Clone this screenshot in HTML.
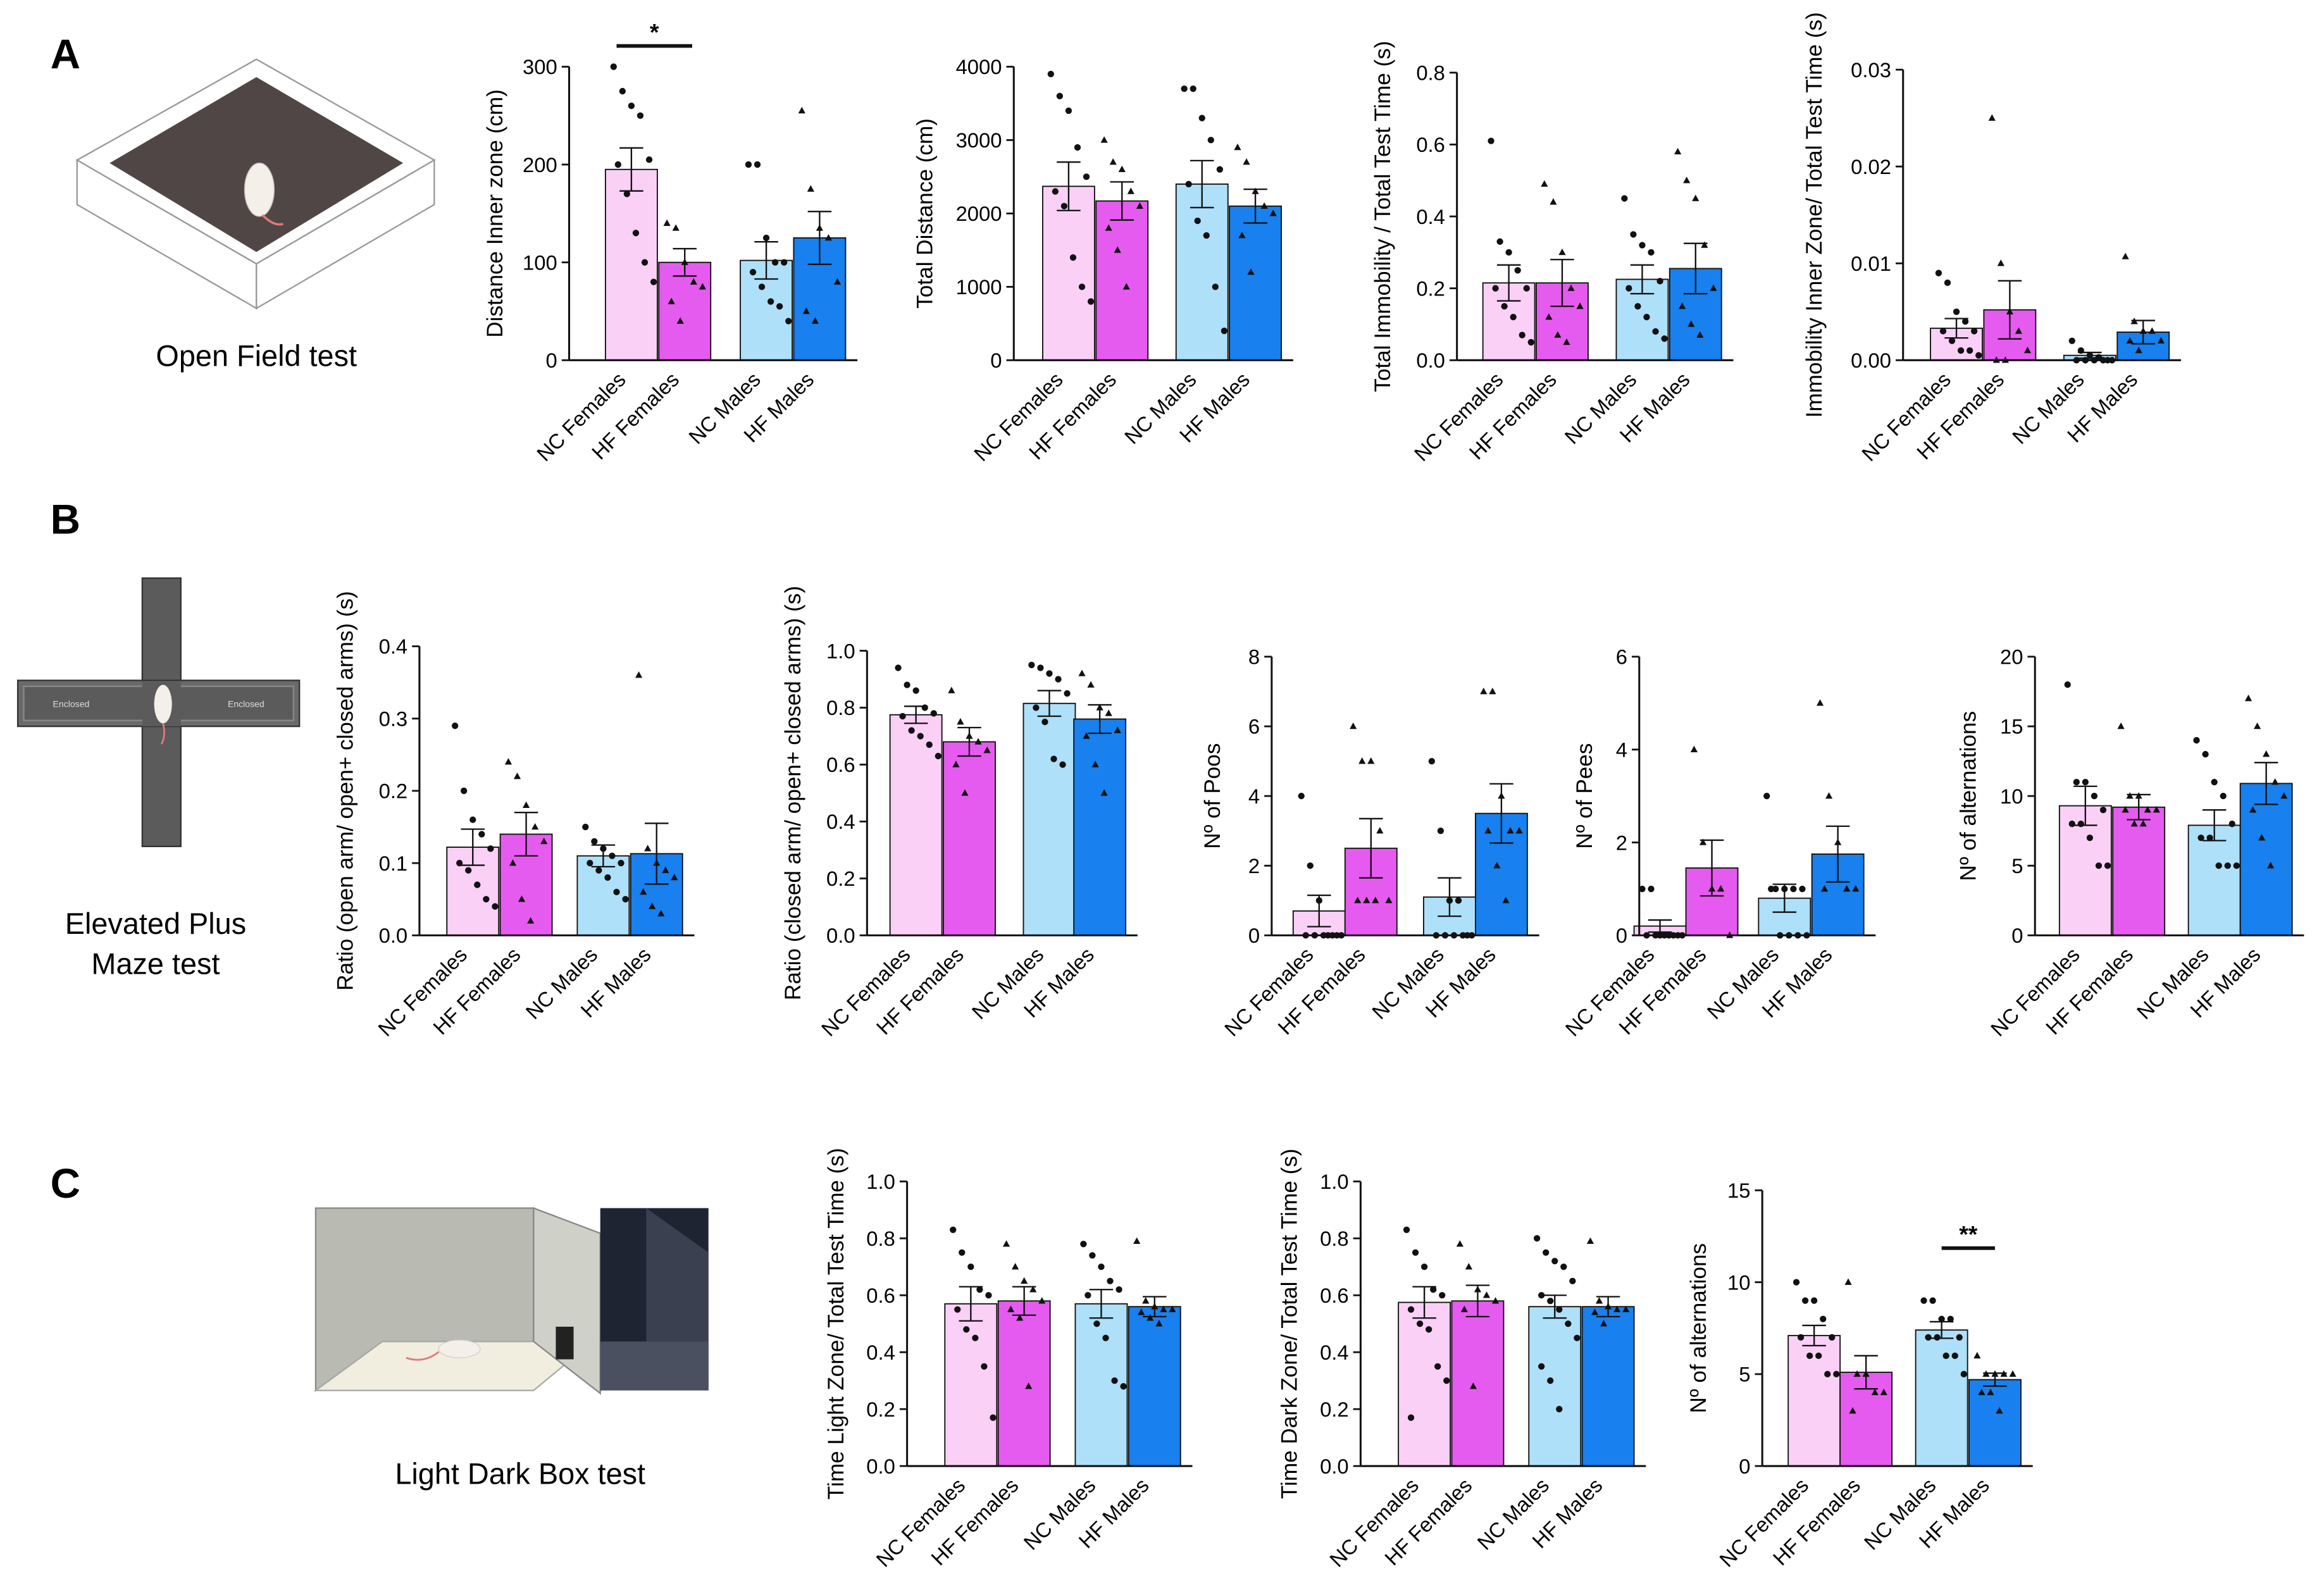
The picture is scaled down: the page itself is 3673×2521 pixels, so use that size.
<!DOCTYPE html>
<html><head><meta charset="utf-8"><style>
html,body{margin:0;padding:0;background:#fff}
svg{display:block}
text{font-family:"Liberation Sans",sans-serif}
</style></head><body>
<svg id="fig" xmlns="http://www.w3.org/2000/svg" width="3673" height="2521" viewBox="0 0 1568 1076" preserveAspectRatio="none">
<g font-weight="bold" font-size="28">
<text x="34" y="46">A</text><text x="34" y="360">B</text><text x="34" y="808">C</text>
</g>
<g>
<polygon points="52,108 173,40 293,108 173,178" fill="#fff" stroke="#999" stroke-width="1"/>
<polygon points="52,108 173,178 173,208 52,138" fill="#fff" stroke="#999"/>
<polygon points="173,178 293,108 293,138 173,208" fill="#fff" stroke="#999"/>
<polygon points="74,110 173,52 272,110 173,170" fill="#514646"/>
<ellipse cx="175" cy="128" rx="10" ry="18" fill="#f4efe9" stroke="#bbb" stroke-width="0.6"/>
<path d="M177,145 q8,8 14,6" stroke="#e07a7a" fill="none" stroke-width="1.5"/>
<text x="173" y="247" font-size="20" text-anchor="middle">Open Field test</text>
</g>
<g>
<rect x="96" y="390" width="26" height="181" fill="#5b5b5b" stroke="#333"/>
<rect x="12" y="459" width="190" height="31" fill="#6a6a6a" stroke="#333"/>
<rect x="16" y="463" width="182" height="23" fill="#5b5b5b" stroke="#888"/>
<rect x="96" y="460" width="26" height="30" fill="#5b5b5b"/>
<text x="48" y="477" font-size="6" fill="#ddd" text-anchor="middle">Enclosed</text>
<text x="166" y="477" font-size="6" fill="#ddd" text-anchor="middle">Enclosed</text>
<ellipse cx="110" cy="475" rx="6" ry="13" fill="#f4efe9"/>
<path d="M110,488 q2,8 -1,14" stroke="#e07a7a" fill="none" stroke-width="1.2"/>
<text x="105" y="630" font-size="20" text-anchor="middle">Elevated Plus</text>
<text x="105" y="657" font-size="20" text-anchor="middle">Maze test</text>
</g>
<g>
<polygon points="213,815 360,815 360,905 258,905 213,938" fill="#b9bbb2" stroke="#888"/>
<polygon points="258,905 400,905 360,938 213,938" fill="#f1eee0" stroke="#aaa"/>
<polygon points="360,815 405,832 405,940 360,905" fill="#cfd0c8" stroke="#888"/>
<polygon points="405,815 478,815 478,938 405,938" fill="#1f2433"/>
<polygon points="436,815 478,845 478,938 436,905" fill="#3a4050"/>
<polygon points="405,905 478,905 478,938 405,938" fill="#4a5060"/>
<rect x="375" y="895" width="12" height="22" fill="#222"/>
<ellipse cx="310" cy="910" rx="14" ry="6" fill="#f4efe9" stroke="#ccc" stroke-width="0.5"/>
<path d="M296,912 q-10,8 -22,4" stroke="#e07a7a" fill="none" stroke-width="1.2"/>
<text x="351" y="1001" font-size="20" text-anchor="middle">Light Dark Box test</text>
</g>
<g id="charts"></g>
</svg>
<script>
const categories = ["NC Females","HF Females","NC Males","HF Males"];
const colors = ["#fbd0f7","#e65bef","#aee0fa","#1880ef"];

const valuesA1 = [195,100,102,125]; const errA1 = [22,14,19,27];
const ptsA1 = [[300,275,260,250,205,200,170,130,100,80],[140,135,100,80,75,60,40],[200,200,125,100,100,90,75,60,55,40],[255,175,135,125,80,50,40]];
const valuesA2 = [2370,2170,2400,2100]; const errA2 = [330,260,320,230];
const ptsA2 = [[3900,3600,3400,2900,2500,2300,2100,1400,1000,800],[3000,2700,2600,2300,2100,1800,1500,1000],[3700,3700,3300,3000,2600,2400,1900,1700,1000,400],[2900,2700,2300,2100,2000,1700,1200]];
const valuesA3 = [0.215,0.215,0.225,0.255]; const errA3 = [0.05,0.065,0.04,0.07];
const ptsA3 = [[0.61,0.33,0.3,0.25,0.2,0.2,0.15,0.12,0.07,0.05],[0.49,0.44,0.3,0.2,0.15,0.12,0.07,0.05],[0.45,0.35,0.32,0.3,0.22,0.2,0.15,0.12,0.08,0.06],[0.58,0.5,0.45,0.32,0.2,0.15,0.1,0.07]];
const valuesA4 = [0.0033,0.0052,0.0005,0.0029]; const errA4 = [0.001,0.003,0.0003,0.0012];
const ptsA4 = [[0.009,0.008,0.005,0.004,0.003,0.003,0.002,0.001,0.001,0.0005],[0.025,0.01,0.005,0.003,0.001,0,0],[0.002,0.001,0.0005,0.0003,0,0,0,0,0,0],[0.0107,0.004,0.003,0.003,0.002,0.002,0.001]];
const valuesB1 = [0.122,0.14,0.11,0.113]; const errB1 = [0.025,0.03,0.015,0.042];
const ptsB1 = [[0.29,0.2,0.16,0.14,0.12,0.1,0.09,0.07,0.05,0.04],[0.24,0.22,0.18,0.15,0.13,0.1,0.05,0.02],[0.15,0.13,0.12,0.11,0.1,0.1,0.09,0.08,0.06,0.05],[0.36,0.12,0.1,0.09,0.08,0.06,0.04,0.03]];
const valuesB2 = [0.775,0.68,0.815,0.76]; const errB2 = [0.03,0.05,0.045,0.05];
const ptsB2 = [[0.94,0.88,0.86,0.8,0.78,0.77,0.72,0.7,0.67,0.63],[0.86,0.75,0.7,0.68,0.65,0.6,0.5],[0.95,0.94,0.92,0.9,0.85,0.8,0.75,0.62,0.6],[0.92,0.88,0.8,0.78,0.72,0.7,0.6,0.5]];
const valuesB3 = [0.7,2.5,1.1,3.5]; const errB3 = [0.45,0.85,0.55,0.85];
const ptsB3 = [[4,2,1,0,0,0,0,0,0,0],[6,5,5,3,1,1,1,1],[5,3,1,1,0,0,0,0,0,0],[7,7,4,3,3,3,2,1]];
const valuesB4 = [0.2,1.45,0.8,1.75]; const errB4 = [0.13,0.6,0.3,0.6];
const ptsB4 = [[1,1,0,0,0,0,0,0,0,0],[4,2,1,1,0],[3,1,1,1,1,1,0,0,0,0],[5,3,2,1,1,1]];
const valuesB5 = [9.3,9.2,7.9,10.9]; const errB5 = [1.4,0.9,1.1,1.5];
const ptsB5 = [[18,11,11,10,9,8,8,7,5,5],[15,10,10,9,9,9,8,8],[14,13,11,10,8,7,7,5,5,5],[17,15,13,11,10,9,7,5]];
const valuesC1 = [0.57,0.58,0.57,0.56]; const errC1 = [0.06,0.05,0.05,0.035];
const ptsC1 = [[0.83,0.75,0.7,0.62,0.6,0.55,0.48,0.45,0.35,0.17],[0.78,0.7,0.65,0.62,0.58,0.55,0.52,0.28],[0.78,0.74,0.7,0.65,0.62,0.6,0.5,0.45,0.3,0.28],[0.79,0.58,0.56,0.55,0.55,0.54,0.52,0.5]];
const valuesC2 = [0.575,0.58,0.56,0.56]; const errC2 = [0.055,0.055,0.04,0.035];
const ptsC2 = [[0.83,0.75,0.7,0.62,0.6,0.55,0.5,0.48,0.35,0.3,0.17],[0.78,0.7,0.62,0.6,0.58,0.55,0.28],[0.8,0.75,0.72,0.7,0.65,0.6,0.58,0.55,0.5,0.45,0.35,0.3,0.2],[0.79,0.58,0.56,0.55,0.55,0.54,0.5]];
const valuesC3 = [7.1,5.1,7.4,4.7]; const errC3 = [0.55,0.9,0.45,0.35];
const ptsC3 = [[10,9,9,8,7,7,6,6,5,5],[10,5,5,4,4,3],[9,9,8,8,7,7,7,6,6,5],[6,5,5,5,5,4,4,3]];

const ticksA1=["0","100","200","300"], ticksA2=["0","1000","2000","3000","4000"], ticksA3=["0.0","0.2","0.4","0.6","0.8"], ticksA4=["0.00","0.01","0.02","0.03"];
const ticksB1=["0.0","0.1","0.2","0.3","0.4"], ticksB2=["0.0","0.2","0.4","0.6","0.8","1.0"], ticksB3=["0","2","4","6","8"], ticksB4=["0","2","4","6"], ticksB5=["0","5","10","15","20"];
const ticksC1=["0.0","0.2","0.4","0.6","0.8","1.0"], ticksC2=ticksC1, ticksC3=["0","5","10","15"];

const NS="http://www.w3.org/2000/svg";
const root=document.getElementById('charts');
function mk(tag,attrs,parent){const e=document.createElementNS(NS,tag);for(const k in attrs)e.setAttribute(k,attrs[k]);parent.appendChild(e);return e;}

function panel(id,cfg,values,errs,pts,ticks){
  const g=mk('g',{},root);
  
  
  const max=parseFloat(ticks[ticks.length-1]);
  const ys=v=>cfg.y0-(v/max)*(cfg.y0-cfg.ytop);
  const bw=35;
  const xEnd=cfg.centers[3]+bw/2+8;
  values.forEach((v,i)=>{
    const b=mk('rect',{x:cfg.centers[i]-bw/2,y:ys(v),width:bw,height:cfg.y0-ys(v),fill:colors[i],stroke:'#111','stroke-width':0.8},g);
    
    
  });
  pts.forEach((arr,i)=>{
    arr.forEach((v,j)=>{
      const off=((j%5)-2)*6+(j>=5?3:0);
      const x=cfg.centers[i]+off, y=ys(v);
      let p;
      if(i%2===0) p=mk('circle',{cx:x,cy:y,r:2.2,fill:'#111'},g);
      else p=mk('polygon',{points:`${x},${y-2.6} ${x-2.4},${y+1.8} ${x+2.4},${y+1.8}`,fill:'#111'},g);
      
      
    });
  });
  values.forEach((v,i)=>{
    const cx=cfg.centers[i];
    mk('line',{x1:cx,x2:cx,y1:ys(v+errs[i]),y2:ys(Math.max(0,v-errs[i])),stroke:'#111','stroke-width':1},g);
    mk('line',{x1:cx-8,x2:cx+8,y1:ys(v+errs[i]),y2:ys(v+errs[i]),stroke:'#111','stroke-width':1},g);
    mk('line',{x1:cx-8,x2:cx+8,y1:ys(Math.max(0,v-errs[i])),y2:ys(Math.max(0,v-errs[i])),stroke:'#111','stroke-width':1},g);
  });
  mk('line',{x1:cfg.ax,x2:cfg.ax,y1:cfg.ytop,y2:cfg.y0,stroke:'#111','stroke-width':1.3},g);
  mk('line',{x1:cfg.ax,x2:xEnd,y1:cfg.y0,y2:cfg.y0,stroke:'#111','stroke-width':1.3},g);
  ticks.forEach(t=>{
    const y=ys(parseFloat(t));
    mk('line',{x1:cfg.ax-5,x2:cfg.ax,y1:y,y2:y,stroke:'#111','stroke-width':1.2},g);
    const tl=mk('text',{x:cfg.ax-8,y:y+5,'font-size':14,'text-anchor':'end'},g);
    tl.textContent=t;
    
    
  });
  const tt=mk('text',{transform:`translate(${cfg.ax-cfg.tOff},${(cfg.y0+cfg.ytop)/2}) rotate(-90)`,'font-size':15,'text-anchor':'middle'},g);
  tt.textContent=cfg.title;
  
  
  categories.forEach((c,i)=>{
    const x=cfg.centers[i]-3,y=cfg.y0+14;
    const l=mk('text',{transform:`translate(${x},${y}) rotate(-45)`,'font-size':14,'text-anchor':'end'},g);
    l.textContent=c;
    
    
  });
  if(cfg.sig){
    mk('line',{x1:cfg.sig[0],x2:cfg.sig[1],y1:cfg.sig[2],y2:cfg.sig[2],stroke:'#111','stroke-width':2.5},g);
    const s=mk('text',{x:(cfg.sig[0]+cfg.sig[1])/2,y:cfg.sig[2]-4,'font-size':16,'font-weight':'bold','text-anchor':'middle'},g);
    s.textContent=cfg.sig[3];
    
    
  }
}

panel('chart-distance-inner-zone',{ax:384,y0:243,ytop:45,centers:[426,462,517,553],title:'Distance Inner zone (cm)',tOff:45,sig:[416,467,31,'*']},valuesA1,errA1,ptsA1,ticksA1);
panel('chart-total-distance',{ax:684,y0:243,ytop:45,centers:[721,757,811,847],title:'Total Distance (cm)',tOff:55},valuesA2,errA2,ptsA2,ticksA2);
panel('chart-total-immobility',{ax:983,y0:243,ytop:49,centers:[1018,1054,1108,1144],title:'Total Immobility / Total Test Time (s)',tOff:45},valuesA3,errA3,ptsA3,ticksA3);
panel('chart-immobility-inner-zone',{ax:1284,y0:243,ytop:47,centers:[1320,1356,1410,1446],title:'Immobility Inner Zone/ Total Test Time (s)',tOff:55},valuesA4,errA4,ptsA4,ticksA4);
panel('chart-open-arm-ratio',{ax:283,y0:631,ytop:436,centers:[319,355,407,443],title:'Ratio (open arm/ open+ closed arms) (s)',tOff:45},valuesB1,errB1,ptsB1,ticksB1);
panel('chart-closed-arm-ratio',{ax:585,y0:631,ytop:439,centers:[618,654,708,742],title:'Ratio (closed arm/ open+ closed arms) (s)',tOff:45},valuesB2,errB2,ptsB2,ticksB2);
panel('chart-poos',{ax:858,y0:631,ytop:443,centers:[890,925,978,1013],title:'Nº of Poos',tOff:35},valuesB3,errB3,ptsB3,ticksB3);
panel('chart-pees',{ax:1106,y0:631,ytop:443,centers:[1120,1155,1204,1240],title:'Nº of Pees',tOff:32},valuesB4,errB4,ptsB4,ticksB4);
panel('chart-alternations-epm',{ax:1373,y0:631,ytop:443,centers:[1407,1443,1494,1529],title:'Nº of alternations',tOff:40},valuesB5,errB5,ptsB5,ticksB5);
panel('chart-time-light-zone',{ax:612,y0:989,ytop:797,centers:[655,691,743,779],title:'Time Light Zone/ Total Test Time (s)',tOff:43},valuesC1,errC1,ptsC1,ticksC1);
panel('chart-time-dark-zone',{ax:918,y0:989,ytop:797,centers:[961,997,1049,1085],title:'Time Dark Zone/ Total Test Time (s)',tOff:43},valuesC2,errC2,ptsC2,ticksC2);
panel('chart-alternations-ldb',{ax:1189,y0:989,ytop:803,centers:[1224,1259,1310,1346],title:'Nº of alternations',tOff:38,sig:[1310,1346,842,'**']},valuesC3,errC3,ptsC3,ticksC3);
</script>
</body></html>
